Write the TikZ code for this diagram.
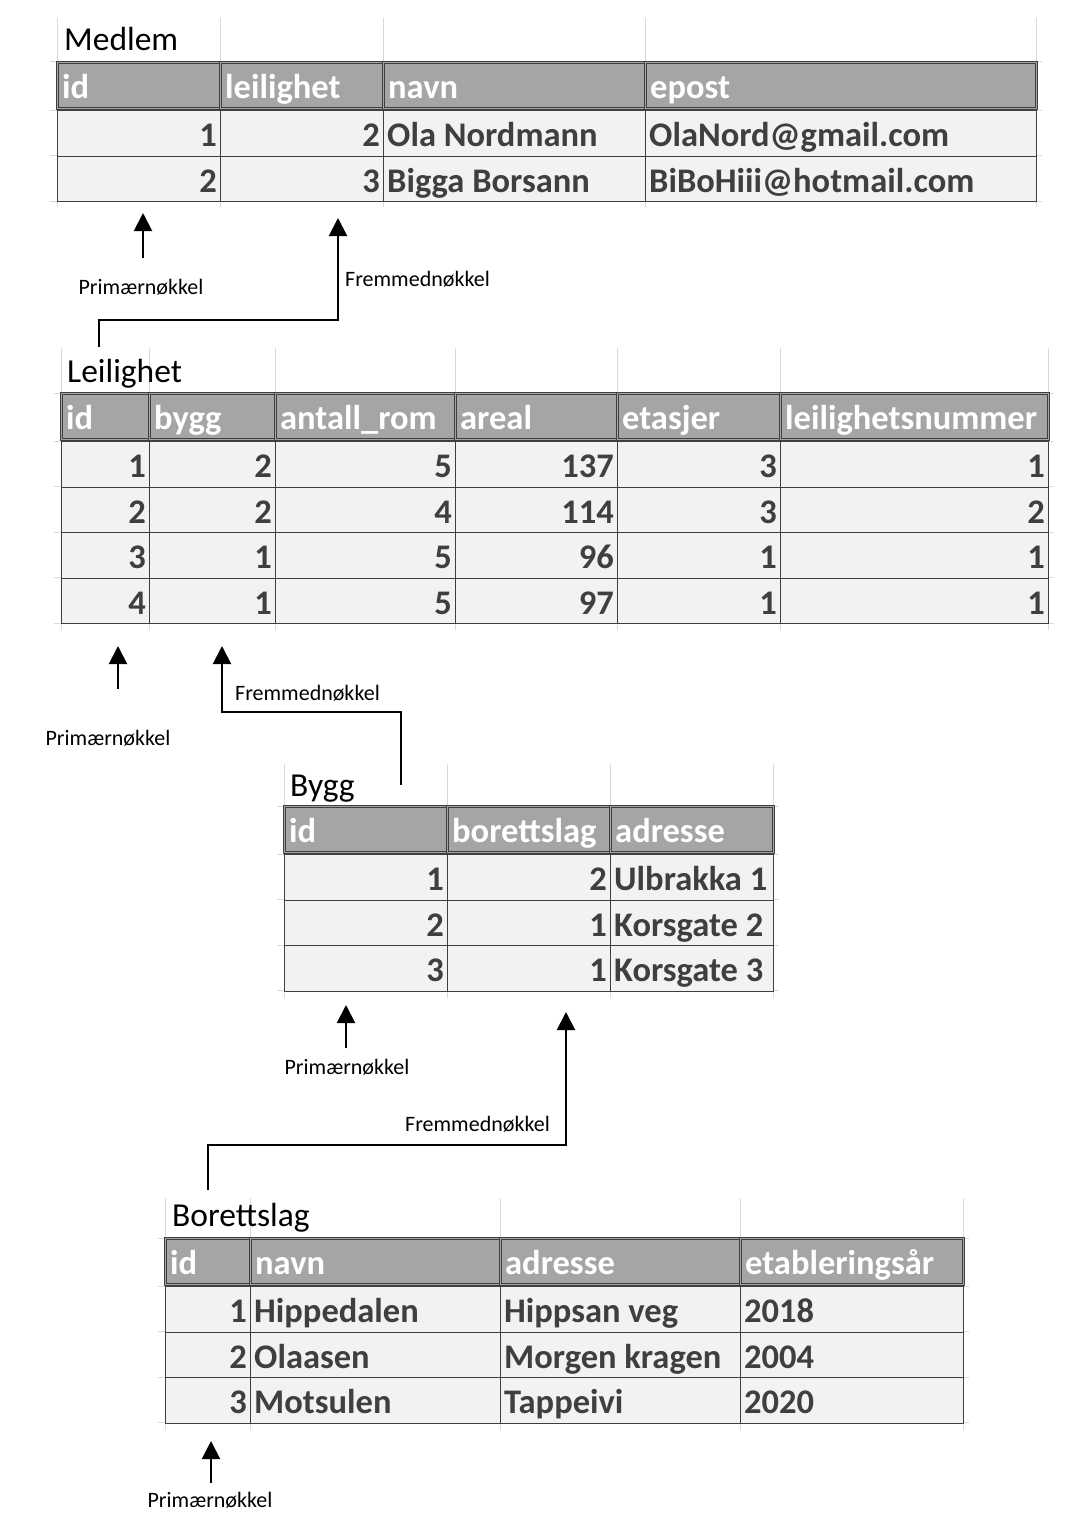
\documentclass[tikz,border=0pt]{standalone}
\usepackage{fontspec}
\setmainfont{Carlito}
\usetikzlibrary{positioning,calc,arrows.meta}
\definecolor{checkFill}{HTML}{A5A5A5}
\definecolor{outputFill}{HTML}{F2F2F2}
\definecolor{cellEdge}{HTML}{3F3F3F}
\definecolor{sheetGrid}{HTML}{DADADA}
\tikzset{
  headCell/.style={
    rectangle,
    draw=cellEdge,
    line width=0.6pt,
    double=checkFill,
    double distance=1.4pt,
    fill=checkFill,
    anchor=north west,
    inner sep=0pt,
    minimum height=46pt
  },
  dataCell/.style={
    rectangle,
    draw=cellEdge,
    line width=1pt,
    fill=outputFill,
    anchor=north west,
    inner sep=0pt,
    minimum height=45.5pt
  },
  headText/.style={
    anchor=west,
    inner xsep=5pt,
    inner ysep=4pt,
    text height=32pt,
    text depth=6pt,
    text=white,
    font=\fontsize{34.5}{38}\selectfont\bfseries
  },
  dataText/.style={
    inner xsep=4pt,
    inner ysep=3.5pt,
    text height=32.5pt,
    text depth=6pt,
    text=cellEdge,
    font=\fontsize{34.5}{38}\selectfont\bfseries
  },
  tableTitle/.style={
    anchor=base west,
    inner sep=0pt,
    font=\fontsize{33.5}{37}\selectfont
  },
  keyLabel/.style={
    inner sep=0pt,
    font=\fontsize{22}{24}\selectfont
  },
  arrowLine/.style={
    -{Triangle[length=18pt,width=18pt]},
    line width=2pt
  },
  gridLine/.style={
    draw=sheetGrid,
    line width=1pt
  }
}

\begin{document}
\begin{tikzpicture}[x=1pt,y=-1pt]
        \useasboundingbox[fill=white] (0,0) rectangle (1066,1520);

        % Medlem
        \foreach \x in {57,220,383,645,1036} \draw[gridLine] (\x,18) -- (\x,207);
        \foreach \y in {62,110,155.5,201} \draw[gridLine] (50,\y) -- (1042,\y);
        \node[tableTitle] (medlemTitle) at (64,51) {Medlem};
        \foreach \x/\w/\t [count=\c] in {57/163/id,220/163/leilighet,383/262/navn,645/391/epost} {
          \node[headCell, minimum width=\w pt] (medlem-h\c) at (\x,62) {};
          \node[headText] (medlem-h\c-text) at (medlem-h\c.west) {\t};
        }
        \foreach \y/\r/\a/\b/\n/\e in
            {110/1/1/2/Ola Nordmann/OlaNord@gmail.com,
             155.5/2/2/3/Bigga Borsann/BiBoHiii@hotmail.com}
          \foreach \x/\w/\s/\t [count=\c] in {57/163/east/\a,220/163/east/\b,383/262/west/\n,645/391/west/\e} {
            \node[dataCell, minimum width=\w pt] (medlem-\r-\c) at (\x,\y) {};
            \node[dataText, anchor=\s] (medlem-\r-\c-text) at (medlem-\r-\c.\s) {\t};
          }

        % Leilighet
        \foreach \x in {61,149,275,455,617,780,1048} \draw[gridLine] (\x,348) -- (\x,630);
        \foreach \y in {393,441,486.5,532,577.5,623} \draw[gridLine] (54,\y) -- (1054,\y);
        \node[tableTitle] (leilighetTitle) at (67,382) {Leilighet};
        \foreach \x/\w/\t [count=\c] in
            {61/88/id,149/126/bygg,275/180/antall\_rom,455/162/areal,617/163/etasjer,780/268/leilighetsnummer} {
          \node[headCell, minimum width=\w pt] (leilighet-h\c) at (\x,393) {};
          \node[headText] (leilighet-h\c-text) at (leilighet-h\c.west) {\t};
        }
        \foreach \y/\r/\a/\b/\n/\m/\e/\l in
            {441/1/1/2/5/137/3/1, 486.5/2/2/2/4/114/3/2,
             532/3/3/1/5/96/1/1, 577.5/4/4/1/5/97/1/1}
          \foreach \x/\w/\t [count=\c] in {61/88/\a,149/126/\b,275/180/\n,455/162/\m,617/163/\e,780/268/\l} {
            \node[dataCell, minimum width=\w pt] (leilighet-\r-\c) at (\x,\y) {};
            \node[dataText, anchor=east] (leilighet-\r-\c-text) at (leilighet-\r-\c.east) {\t};
          }

        % Bygg
        \foreach \x in {284,447,610,773} \draw[gridLine] (\x,764) -- (\x,998);
        \foreach \y in {806,854,899.5,945,990.5} \draw[gridLine] (277,\y) -- (779,\y);
        \node[tableTitle] (byggTitle) at (290,796) {Bygg};
        \foreach \x/\w/\t [count=\c] in {284/163/id,447/163/borettslag,610/163/adresse} {
          \node[headCell, minimum width=\w pt] (bygg-h\c) at (\x,806) {};
          \node[headText] (bygg-h\c-text) at (bygg-h\c.west) {\t};
        }
        \foreach \y/\r/\a/\b/\n in
            {854/1/1/2/Ulbrakka 1, 899.5/2/2/1/Korsgate 2, 945/3/3/1/Korsgate 3}
          \foreach \x/\w/\s/\t [count=\c] in {284/163/east/\a,447/163/east/\b,610/163/west/\n} {
            \node[dataCell, minimum width=\w pt] (bygg-\r-\c) at (\x,\y) {};
            \node[dataText, anchor=\s] (bygg-\r-\c-text) at (bygg-\r-\c.\s) {\t};
          }

        % Borettslag
        \foreach \x in {165,250,500,740,963} \draw[gridLine] (\x,1198) -- (\x,1430);
        \foreach \y in {1238,1286,1331.5,1377,1422.5} \draw[gridLine] (158,\y) -- (969,\y);
        \node[tableTitle] (borettslagTitle) at (172,1226) {Borettslag};
        \foreach \x/\w/\t [count=\c] in {165/85/id,250/250/navn,500/240/adresse,740/223/etableringsår} {
          \node[headCell, minimum width=\w pt] (borettslag-h\c) at (\x,1238) {};
          \node[headText] (borettslag-h\c-text) at (borettslag-h\c.west) {\t};
        }
        \foreach \y/\r/\a/\n/\g/\e in
            {1286/1/1/Hippedalen/Hippsan veg/2018,
             1331.5/2/2/Olaasen/Morgen kragen/2004,
             1377/3/3/Motsulen/Tappeivi/2020}
          \foreach \x/\w/\s/\t [count=\c] in {165/85/east/\a,250/250/west/\n,500/240/west/\g,740/223/west/\e} {
            \node[dataCell, minimum width=\w pt] (borettslag-\r-\c) at (\x,\y) {};
            \node[dataText, anchor=\s] (borettslag-\r-\c-text) at (borettslag-\r-\c.\s) {\t};
          }

        % keys
        \coordinate (medlemPKfoot) at (143,258);
        \coordinate (medlemPKtip) at (143,213);
        \coordinate (medlemFKfoot) at (99,347);
        \coordinate (medlemFKtip) at (338,218);
        \coordinate (leilighetPKfoot) at (118,689);
        \coordinate (leilighetPKtip) at (118,646);
        \coordinate (leilighetFKfoot) at (401,785);
        \coordinate (leilighetFKtip) at (222,646);
        \coordinate (byggPKfoot) at (346,1048);
        \coordinate (byggPKtip) at (346,1005);
        \coordinate (byggFKfoot) at (208,1190);
        \coordinate (byggFKtip) at (566,1012);
        \coordinate (borettslagPKfoot) at (211,1483);
        \coordinate (borettslagPKtip) at (211,1441);

        \node[keyLabel, anchor=base] (medlemPK) at (141,294) {Primærnøkkel};
        \node[keyLabel, anchor=base west] (medlemFK) at (345,286) {Fremmednøkkel};
        \node[keyLabel, anchor=base] (leilighetPK) at (108,745) {Primærnøkkel};
        \node[keyLabel, anchor=base west] (leilighetFK) at (235,700) {Fremmednøkkel};
        \node[keyLabel, anchor=base] (byggPK) at (347,1074) {Primærnøkkel};
        \node[keyLabel, anchor=base west] (byggFK) at (405,1131) {Fremmednøkkel};
        \node[keyLabel, anchor=base] (borettslagPK) at (210,1507) {Primærnøkkel};

        \draw[arrowLine] (medlemPKfoot) -- (medlemPKtip);
        \draw[arrowLine] (medlemFKfoot) -- ++(0,-27) -| (medlemFKtip);
        \draw[arrowLine] (leilighetPKfoot) -- (leilighetPKtip);
        \draw[arrowLine] (leilighetFKfoot) -- ++(0,-73) -| (leilighetFKtip);
        \draw[arrowLine] (byggPKfoot) -- (byggPKtip);
        \draw[arrowLine] (byggFKfoot) -- ++(0,-45) -| (byggFKtip);
        \draw[arrowLine] (borettslagPKfoot) -- (borettslagPKtip);

    \end{tikzpicture}
\end{document}
